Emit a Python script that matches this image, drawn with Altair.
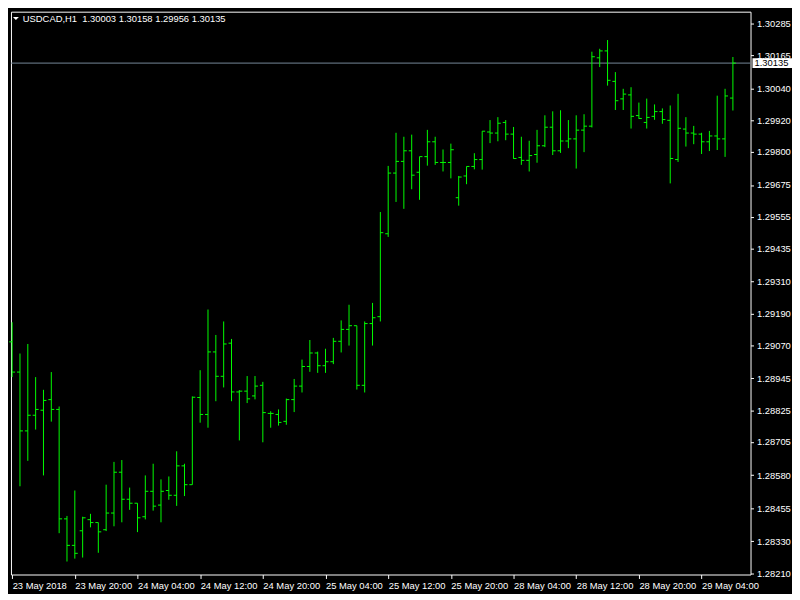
import altair as alt
import pandas as pd

symbol = "USDCAD,H1"

opens = [1.29083, 1.28969, 1.28747, 1.28806, 1.28825, 1.28865, 1.28828, 1.28415, 1.28315, 1.28370,
         1.28412, 1.28401, 1.28374, 1.28437, 1.28591, 1.28489, 1.28474, 1.28423, 1.28519, 1.28467,
         1.28522, 1.28504, 1.28615, 1.28544, 1.28873, 1.28809, 1.29045, 1.28953, 1.29078, 1.28894,
         1.28897, 1.28879, 1.28919, 1.28813, 1.28809, 1.28783, 1.28865, 1.28916, 1.28990, 1.29041,
         1.28993, 1.29008, 1.29085, 1.29130, 1.29144, 1.28919, 1.29152, 1.29178, 1.29491, 1.29720,
         1.29764, 1.29804, 1.29723, 1.29782, 1.29838, 1.29760, 1.29760, 1.29627, 1.29709, 1.29745,
         1.29771, 1.29875, 1.29871, 1.29911, 1.29867, 1.29779, 1.29768, 1.29790, 1.29823, 1.29893,
         1.29804, 1.29841, 1.29849, 1.29882, 1.29897, 1.30155, 1.30181, 1.30066, 1.30000, 1.30015,
         1.29937, 1.29911, 1.29934, 1.29952, 1.29919, 1.29771, 1.29886, 1.29871, 1.29867, 1.29838,
         1.29860, 1.29849, 1.30003]
highs = [1.29157, 1.29039, 1.29075, 1.28950, 1.28902, 1.28969, 1.28839, 1.28426, 1.28522, 1.28423,
         1.28434, 1.28401, 1.28544, 1.28630, 1.28637, 1.28533, 1.28474, 1.28579, 1.28623, 1.28564,
         1.28575, 1.28670, 1.28623, 1.28877, 1.28976, 1.29205, 1.29109, 1.29160, 1.29094, 1.28901,
         1.28954, 1.28954, 1.28932, 1.28821, 1.28828, 1.28869, 1.28943, 1.29016, 1.29090, 1.29046,
         1.29057, 1.29098, 1.29164, 1.29223, 1.29144, 1.29160, 1.29230, 1.29573, 1.29747, 1.29872,
         1.29857, 1.29865, 1.29782, 1.29883, 1.29857, 1.29809, 1.29831, 1.29709, 1.29745, 1.29795,
         1.29878, 1.29920, 1.29931, 1.29920, 1.29894, 1.29857, 1.29842, 1.29883, 1.29938, 1.29953,
         1.29957, 1.29920, 1.29938, 1.29942, 1.30178, 1.30189, 1.30222, 1.30101, 1.30038, 1.30044,
         1.29986, 1.30001, 1.29979, 1.29964, 1.29975, 1.30019, 1.29931, 1.29898, 1.29872, 1.29879,
         1.30012, 1.30038, 1.30158]
lows = [1.28950, 1.28538, 1.28634, 1.28752, 1.28579, 1.28782, 1.28361, 1.28254, 1.28265, 1.28269,
        1.28383, 1.28287, 1.28369, 1.28387, 1.28402, 1.28449, 1.28365, 1.28413, 1.28446, 1.28402,
        1.28487, 1.28464, 1.28501, 1.28544, 1.28778, 1.28759, 1.28859, 1.28911, 1.28859, 1.28711,
        1.28852, 1.28866, 1.28704, 1.28759, 1.28767, 1.28770, 1.28818, 1.28892, 1.28970, 1.28966,
        1.28966, 1.28999, 1.29043, 1.29069, 1.28903, 1.28892, 1.29069, 1.29160, 1.29479, 1.29611,
        1.29585, 1.29659, 1.29619, 1.29748, 1.29751, 1.29726, 1.29700, 1.29597, 1.29678, 1.29734,
        1.29733, 1.29833, 1.29840, 1.29844, 1.29774, 1.29751, 1.29726, 1.29759, 1.29818, 1.29788,
        1.29796, 1.29814, 1.29737, 1.29799, 1.29892, 1.30120, 1.30050, 1.29958, 1.29958, 1.29888,
        1.29925, 1.29888, 1.29921, 1.29906, 1.29681, 1.29762, 1.29820, 1.29829, 1.29792, 1.29803,
        1.29807, 1.29781, 1.29956]
closes = [1.28969, 1.28747, 1.28806, 1.28828, 1.28862, 1.28828, 1.28415, 1.28315, 1.28285, 1.28419,
          1.28401, 1.28366, 1.28437, 1.28591, 1.28489, 1.28474, 1.28419, 1.28519, 1.28463, 1.28519,
          1.28504, 1.28615, 1.28544, 1.28874, 1.28809, 1.29045, 1.28953, 1.29075, 1.28894, 1.28897,
          1.28868, 1.28916, 1.28816, 1.28813, 1.28779, 1.28865, 1.28916, 1.28990, 1.29041, 1.28993,
          1.29008, 1.29085, 1.29130, 1.29144, 1.28919, 1.29152, 1.29174, 1.29495, 1.29720, 1.29764,
          1.29804, 1.29712, 1.29782, 1.29838, 1.29760, 1.29760, 1.29808, 1.29705, 1.29745, 1.29771,
          1.29878, 1.29871, 1.29908, 1.29867, 1.29775, 1.29768, 1.29786, 1.29823, 1.29893, 1.29804,
          1.29841, 1.29849, 1.29882, 1.29897, 1.30159, 1.30181, 1.30070, 1.29993, 1.30018, 1.29934,
          1.29926, 1.29930, 1.29952, 1.29922, 1.29775, 1.29889, 1.29871, 1.29867, 1.29838, 1.29860,
          1.29849, 1.30011, 1.30135]

x_tick_labels = ["23 May 2018", "23 May 20:00", "24 May 04:00", "24 May 12:00",
                 "24 May 20:00", "25 May 04:00", "25 May 12:00", "25 May 20:00",
                 "28 May 04:00", "28 May 12:00", "28 May 20:00", "29 May 04:00"]
bars_per_label = 8

y_tick_values = [1.30285, 1.30165, 1.30040, 1.29920, 1.29800, 1.29675, 1.29555, 1.29435,
                 1.29310, 1.29190, 1.29070, 1.28945, 1.28825, 1.28705, 1.28580, 1.28455,
                 1.28330, 1.28210]

bid_price = 1.30135

GREEN = "#00ff00"
FONT = "Liberation Sans"
W, H = 749, 570

df = pd.DataFrame({
    "i": list(range(len(opens))),
    "open": opens, "high": highs, "low": lows, "close": closes,
})

xscale = alt.Scale(domain=[-0.15, 94.25], nice=False, zero=False)
yscale = alt.Scale(domain=[1.28205, 1.30329], nice=False, zero=False)

label_expr = "[" + ",".join("'" + s + "'" for s in x_tick_labels) + "][round(datum.value / %d)]" % bars_per_label

x_axis = alt.Axis(values=[k * bars_per_label for k in range(len(x_tick_labels))],
                  labelExpr=label_expr, labelAlign="left", labelBaseline="top",
                  labelPadding=2, tickSize=4, grid=False, title=None,
                  labelFlush=False, labelOverlap=False, domain=False)
y_axis = alt.Axis(orient="right", values=y_tick_values, format=".5f", tickSize=3,
                  labelPadding=3, grid=False, title=None, labelOverlap=False,
                  domain=False, labelFlush=False, labelBaseline="middle")

base = alt.Chart(df)

hl = base.mark_rule(color=GREEN, strokeWidth=1).encode(
    x=alt.X("i:Q", scale=xscale, axis=x_axis),
    y=alt.Y("low:Q", scale=yscale, axis=y_axis),
    y2="high:Q",
)
op = base.mark_rule(color=GREEN, strokeWidth=1, xOffset=-3, x2Offset=0).encode(
    x=alt.X("i:Q", scale=xscale, axis=x_axis), x2="i:Q",
    y=alt.Y("open:Q", scale=yscale, axis=y_axis)
)
cl = base.mark_rule(color=GREEN, strokeWidth=1, xOffset=0, x2Offset=3).encode(
    x=alt.X("i:Q", scale=xscale, axis=x_axis), x2="i:Q",
    y=alt.Y("close:Q", scale=yscale, axis=y_axis)
)

bid_df = pd.DataFrame({"p": [bid_price], "label": ["%.5f" % bid_price]})
bid_line = alt.Chart(bid_df).mark_rule(color="#778899", strokeWidth=1).encode(
    y=alt.Y("p:Q", scale=yscale, axis=y_axis)
)
bid_box = alt.Chart(bid_df).mark_rect(color="white", yOffset=-5, y2Offset=5).encode(
    x=alt.value(W + 2), x2=alt.value(W + 42),
    y=alt.Y("p:Q", scale=yscale, axis=y_axis), y2="p:Q"
)
bid_text = alt.Chart(bid_df).mark_text(color="black", align="left", baseline="middle",
                                       font=FONT, fontSize=9.5).encode(
    x=alt.value(W + 4), y=alt.Y("p:Q", scale=yscale, axis=y_axis), text="label:N"
)

title_text = symbol + "\u00a0\u00a0" + " ".join("%.5f" % v for v in [opens[-1], highs[-1], lows[-1], closes[-1]])
title_df = pd.DataFrame({"t": [title_text]})
title = alt.Chart(title_df).mark_text(color="white", align="left", baseline="middle",
                                      font=FONT, fontSize=9.5).encode(
    x=alt.value(12), y=alt.value(7), text="t:N"
)
tri = alt.Chart(title_df).mark_point(shape="M-1,-0.5L1,-0.5L0,0.5Z", filled=True,
                                     color="white", opacity=1, size=36).encode(
    x=alt.value(5), y=alt.value(7)
)

chart = alt.layer(bid_line, hl, op, cl, bid_box, bid_text, title, tri).properties(
    width=W, height=H, background="black", padding=0
).configure_view(
    stroke="white", strokeWidth=1
).configure_axis(
    labelColor="white", tickColor="white", domainColor="white",
    labelFont=FONT, labelFontSize=9.5, labelOverlap=False
)

chart.save("out.html", embed_options={"renderer": "svg", "actions": False})
